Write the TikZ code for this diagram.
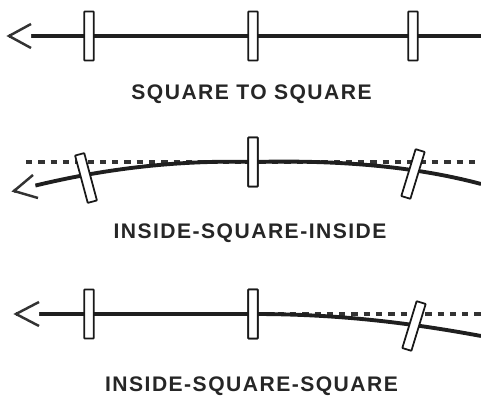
\documentclass[tikz,border=0pt]{standalone}
\usepackage{fontspec}
\newfontfamily\labelfont[LetterSpace=7]{Liberation Sans Bold}
\usetikzlibrary{arrows.meta,positioning,calc}
\tikzset{
  cross/.style={draw=black!90, fill=white, line width=1pt, minimum width=0.19cm, minimum height=0.98cm, inner sep=0pt, rounded corners=0.3pt},
  track/.style={line width=2.2pt, black!88},
  offset/.style={line width=2.4pt, dash pattern=on 3.6pt off 3.4pt, black!80},
  tip/.style={line width=1.4pt, black!80, fill=white, line join=miter},
  caption/.style={font=\labelfont\fontsize{12}{14}\selectfont, text=black!85, inner sep=0pt}
}
\begin{document}
\begin{tikzpicture}
\useasboundingbox (0,0) rectangle (9.62,7.92);

% Row 1: square to square
\coordinate (rowAend) at (9.62,7.2);
\coordinate (rowAtip) at (0.18,7.2);
\coordinate (rowAbarbT) at (0.62,7.44);
\coordinate (rowAbarbB) at (0.62,6.96);
\draw[track] (rowAend) -- (rowAtip);
\draw[tip] (rowAbarbT) -- (rowAtip) -- (rowAbarbB);
\node[cross] (rowAleft) at (1.78,7.2) {};
\node[cross] (rowAmid) at (5.06,7.2) {};
\node[cross] (rowAright) at (8.26,7.2) {};
\node[caption] (rowAlabel) at (5.03,6.03) {SQUARE TO SQUARE};

% Row 2: inside-square-inside
\coordinate (rowBend) at (9.62,4.24);
\coordinate (rowBtip) at (0.28,4.1);
\coordinate (rowBbarbT) at (0.66,4.42);
\coordinate (rowBbarbB) at (0.76,3.96);
\coordinate (rowBdotL) at (0.52,4.68);
\coordinate (rowBdotR) at (9.62,4.68);
\draw[offset] (rowBdotL) -- (rowBdotR);
\node[cross] (rowBmid) at (5.06,4.68) {};
\draw[track] (rowBend) .. controls (8.2,4.62) and (6.6,4.72) .. (rowBmid.center)
  .. controls (3.6,4.72) and (2,4.56) .. (rowBtip);
\draw[tip] (rowBbarbT) -- (rowBtip) -- (rowBbarbB);
\node[cross, rotate=15] (rowBleft) at (1.72,4.36) {};
\node[cross] (rowBmidtop) at (rowBmid.center) {};
\node[cross, rotate=-17] (rowBright) at (8.26,4.44) {};
\node[caption] (rowBlabel) at (5,3.26) {INSIDE-SQUARE-INSIDE};

% Row 3: inside-square-square
\coordinate (rowCend) at (9.62,1.2);
\coordinate (rowCtip) at (0.32,1.64);
\coordinate (rowCbarbT) at (0.78,1.88);
\coordinate (rowCbarbB) at (0.78,1.4);
\coordinate (rowCdotR) at (9.62,1.64);
\node[cross] (rowCmid) at (5.06,1.64) {};
\draw[offset] (rowCmid.center) -- (rowCdotR);
\draw[track] (rowCend) .. controls (8,1.5) and (6.6,1.64) .. (rowCmid.center) -- (rowCtip);
\draw[tip] (rowCbarbT) -- (rowCtip) -- (rowCbarbB);
\node[cross] (rowCleft) at (1.78,1.64) {};
\node[cross] (rowCmidtop) at (rowCmid.center) {};
\node[cross, rotate=-17] (rowCright) at (8.28,1.4) {};
\node[caption] (rowClabel) at (5.03,0.2) {INSIDE-SQUARE-SQUARE};
\end{tikzpicture}
\end{document}
